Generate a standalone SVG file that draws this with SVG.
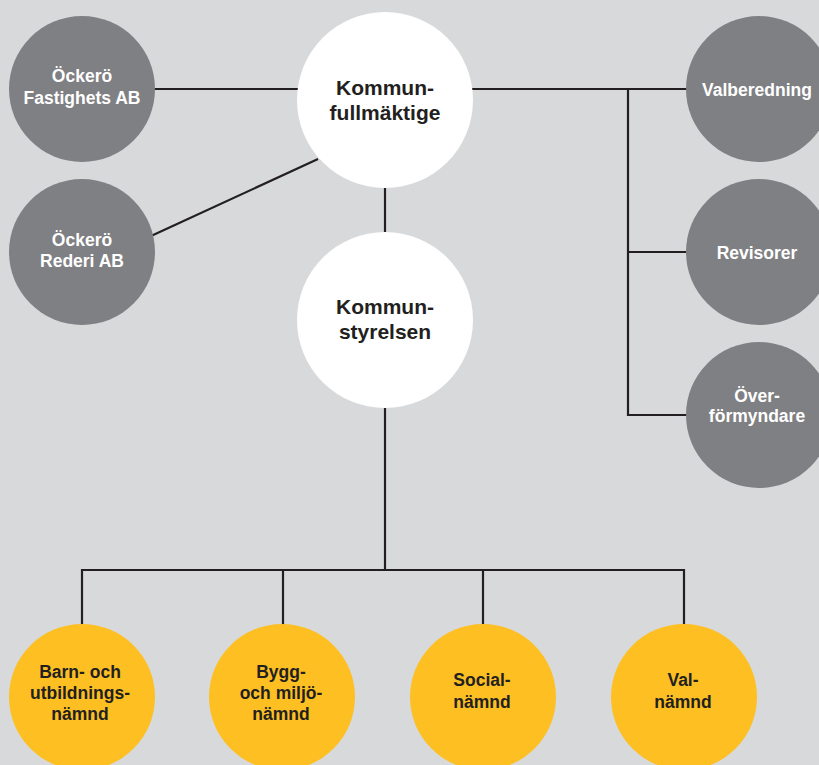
<svg xmlns="http://www.w3.org/2000/svg" width="819" height="765" viewBox="0 0 819 765">
<style>
.bg{fill:#d8d9db}
.ln{stroke:#231f20;stroke-width:2.2;fill:none}
.gray{fill:#7f8083}
.white{fill:#ffffff}
.yel{fill:#fdbf22}
text{font-family:"Liberation Sans",Arial,sans-serif;font-weight:bold;text-anchor:middle}
.tg{fill:#ffffff;font-size:17.5px}
.tw{fill:#231f20;font-size:21px}
.ty{fill:#231f20;font-size:17.5px}
</style>
<rect class="bg" x="0" y="0" width="819" height="765"/>
<g id="connectors">
<line class="ln" x1="154" y1="89" x2="300" y2="89"/>
<line class="ln" x1="151" y1="236" x2="318" y2="159"/>
<line class="ln" x1="470" y1="89" x2="688" y2="89"/>
<polyline class="ln" points="628,89 628,415 688,415"/>
<line class="ln" x1="628" y1="252" x2="688" y2="252"/>
<line class="ln" x1="385" y1="186" x2="385" y2="234"/>
<line class="ln" x1="385" y1="406" x2="385" y2="570"/>
<polyline class="ln" points="82,625 82,570 684,570 684,625"/>
<line class="ln" x1="283" y1="570" x2="283" y2="625"/>
<line class="ln" x1="483" y1="570" x2="483" y2="625"/>
</g>
<g id="fastighets">
<circle class="gray" cx="82" cy="89" r="73"/>
<text class="tg" x="82" y="82">Öckerö</text>
<text class="tg" x="82" y="104">Fastighets AB</text>
</g>
<g id="rederi">
<circle class="gray" cx="82" cy="252" r="73"/>
<text class="tg" x="82" y="246">Öckerö</text>
<text class="tg" x="82" y="267">Rederi AB</text>
</g>
<g id="kommunfullmaktige">
<circle class="white" cx="385" cy="100" r="88"/>
<text class="tw" x="385" y="95">Kommun-</text>
<text class="tw" x="385" y="120">fullmäktige</text>
</g>
<g id="kommunstyrelsen">
<circle class="white" cx="385" cy="320" r="88"/>
<text class="tw" x="385" y="314">Kommun-</text>
<text class="tw" x="385" y="339">styrelsen</text>
</g>
<g id="valberedning">
<circle class="gray" cx="759" cy="89" r="73"/>
<text class="tg" x="757" y="96">Valberedning</text>
</g>
<g id="revisorer">
<circle class="gray" cx="759" cy="252" r="73"/>
<text class="tg" x="757" y="259">Revisorer</text>
</g>
<g id="overformyndare">
<circle class="gray" cx="759" cy="415" r="73"/>
<text class="tg" x="757" y="402">Över-</text>
<text class="tg" x="757" y="422">förmyndare</text>
</g>
<g id="barn">
<circle class="yel" cx="82" cy="697" r="73"/>
<text class="ty" x="80" y="678">Barn- och</text>
<text class="ty" x="80" y="699">utbildnings-</text>
<text class="ty" x="80" y="720">nämnd</text>
</g>
<g id="bygg">
<circle class="yel" cx="282" cy="697" r="73"/>
<text class="ty" x="281" y="678">Bygg-</text>
<text class="ty" x="281" y="699">och miljö-</text>
<text class="ty" x="281" y="720">nämnd</text>
</g>
<g id="social">
<circle class="yel" cx="483" cy="697" r="73"/>
<text class="ty" x="482" y="686">Social-</text>
<text class="ty" x="482" y="708">nämnd</text>
</g>
<g id="val">
<circle class="yel" cx="684" cy="697" r="73"/>
<text class="ty" x="683" y="686">Val-</text>
<text class="ty" x="683" y="708">nämnd</text>
</g>
</svg>
